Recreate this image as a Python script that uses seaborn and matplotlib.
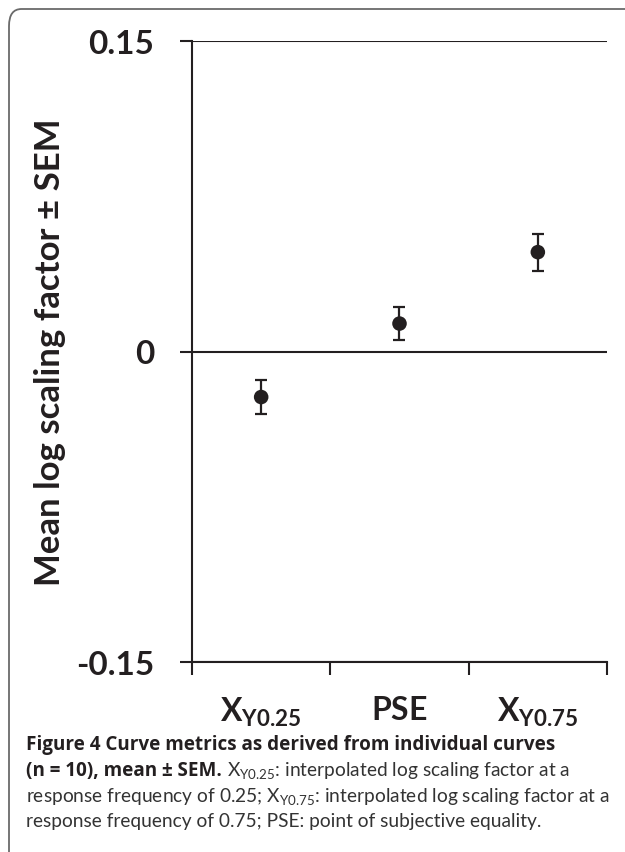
import numpy as np
import pandas as pd
import matplotlib
matplotlib.use("Agg")
import matplotlib.pyplot as plt
from matplotlib.patches import FancyBboxPatch
import seaborn as sns

# values (mean log scaling factor and SEM)
metrics = ["XY0.25", "PSE", "XY0.75"]
means = [-0.022, 0.0135, 0.048]
sems = [0.008, 0.008, 0.009]
tick_labels = [r"$\mathbf{X}_{\mathbf{Y0.25}}$", r"$\mathbf{PSE}$", r"$\mathbf{X}_{\mathbf{Y0.75}}$"]
y_ticks = [-0.15, 0, 0.15]
y_tick_labels = ["-0.15", "0", "0.15"]

df = pd.DataFrame({"metric": metrics, "mean": means, "sem": sems})

sns.set_style("white")
plt.rcParams["font.family"] = ["Lato", "DejaVu Sans"]
plt.rcParams["mathtext.fontset"] = "custom"
plt.rcParams["mathtext.rm"] = "Lato"
plt.rcParams["mathtext.it"] = "Lato:italic"
plt.rcParams["mathtext.bf"] = "Lato:bold"

ink = "#231f20"
W, H = 625, 853

fig = plt.figure(figsize=(W / 100, H / 100), dpi=100)
ax = fig.add_axes([192 / W, 1 - 663 / H, (607 - 192) / W, (663 - 42) / H])

sns.scatterplot(data=df, x="metric", y="mean", ax=ax, color=ink, s=110,
                edgecolor="none", zorder=4)
ax.errorbar(df["metric"], df["mean"], yerr=df["sem"], fmt="none",
            ecolor=ink, elinewidth=1.6, capsize=4, capthick=1.6, zorder=3)

ax.set_xlim(-0.5, 2.5)
ax.set_ylim(-0.15, 0.15)

# dividers between categories as major ticks, names on minor ticks
ax.set_xticks([-0.5, 0.5, 1.5, 2.5], [""] * 4)
ax.set_xticks([0, 1, 2], tick_labels, minor=True)
ax.tick_params(axis="x", which="major", bottom=True, direction="out",
               length=9, width=1.5, color=ink)
ax.tick_params(axis="x", which="minor", bottom=True, length=0, pad=24,
               labelsize=23, labelcolor=ink)

ax.set_yticks(y_ticks, y_tick_labels)
ax.tick_params(axis="y", left=True, direction="out", length=9, width=1.5, color=ink,
               pad=18, labelsize=24, labelcolor=ink)
for lbl in ax.get_yticklabels():
    lbl.set_fontweight("bold")

ax.yaxis.grid(True, color=ink, lw=1.5)
ax.xaxis.grid(False)
sns.despine(ax=ax, top=True, right=True)
for s in ["left", "bottom"]:
    ax.spines[s].set_color(ink)
    ax.spines[s].set_linewidth(1.5)
ax.set_xlabel("")
ax.set_ylabel("")

fig.text(50 / W, 1 - 352 / H, "Mean log scaling factor ± SEM", rotation=90,
         ha="center", va="center", fontsize=25, fontweight="bold", color=ink)

# rounded frame around figure + caption (right and bottom edges run off the page)
frame = FancyBboxPatch((9 / W, -0.05), 1.2, 1 - 10 / H + 0.05,
                       boxstyle="round,pad=0,rounding_size=0.02",
                       transform=fig.transFigure, fill=False,
                       edgecolor="#6a6a6a", lw=1.3)
fig.patches.append(frame)

# caption
cap_x = 26 / W
cap_size = 13.8
bold_size = 13.6
bold_font = ["Open Sans", "DejaVu Sans"]
cap_color = "#333333"
fig.text(cap_x, 1 - 745 / H, "Figure 4 Curve metrics as derived from individual curves",
         fontsize=bold_size, family=bold_font, fontweight="bold", va="center", color=ink)
bold_part = fig.text(cap_x, 1 - 771 / H, "(n = 10), mean ± SEM.",
                     fontsize=bold_size, family=bold_font, fontweight="bold",
                     va="center", color=ink)
fig.canvas.draw()
r = fig.canvas.get_renderer()
bb = bold_part.get_window_extent(r)
fig.text((bb.x1 + 5) / W, 1 - 771 / H,
         r"X$_{\mathrm{Y0.25}}$: interpolated log scaling factor at a",
         fontsize=cap_size, va="center", color=cap_color)
fig.text(cap_x, 1 - 797 / H,
         r"response frequency of 0.25; X$_{\mathrm{Y0.75}}$: interpolated log scaling factor at a",
         fontsize=cap_size, va="center", color=cap_color)
fig.text(cap_x, 1 - 822 / H,
         "response frequency of 0.75; PSE: point of subjective equality.",
         fontsize=cap_size, va="center", color=cap_color)

fig.savefig("out.png", dpi=100)
